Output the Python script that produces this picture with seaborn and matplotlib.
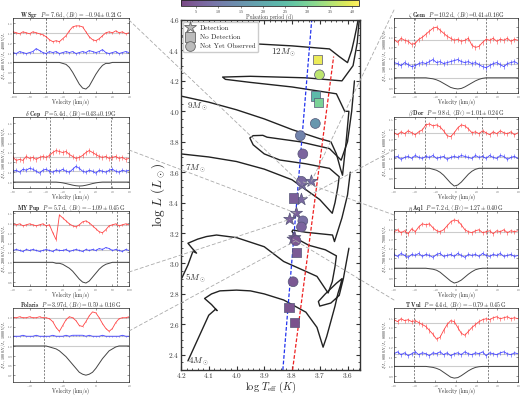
import numpy as np
import pandas as pd
import matplotlib
matplotlib.use("Agg")
import matplotlib.pyplot as plt
from matplotlib.colors import ListedColormap, Normalize
from matplotlib.lines import Line2D
from matplotlib.patches import ConnectionPatch
from matplotlib.ticker import MultipleLocator, FixedLocator
import seaborn as sns

sns.set_style("ticks")
plt.rcParams.update({
    "font.family": "serif",
    "font.serif": ["cmr10", "DejaVu Serif"],
    "mathtext.fontset": "cm",
    "axes.unicode_minus": False,
    "axes.formatter.use_mathtext": True,
})

# ---------------- HR diagram data ----------------
track_masses = ["4", "5", "7", "9", "12"]
track_4_T = [4.175, 4.14, 4.10, 4.075, 4.07, 4.09, 4.115, 4.09, 4.06, 4.00, 3.95, 3.90, 3.83, 3.75, 3.71, 3.688,
             3.675, 3.66, 3.645, 3.635, 3.625, 3.62, 3.64, 3.68, 3.705, 3.70, 3.66, 3.63, 3.615, 3.605, 3.595]
track_4_L = [2.36, 2.50, 2.66, 2.70, 2.69, 2.73, 2.77, 2.80, 2.82, 2.825, 2.82, 2.80, 2.76, 2.68, 2.58, 2.45,
             2.52, 2.62, 2.72, 2.80, 2.86, 2.90, 2.87, 2.80, 2.75, 2.72, 2.74, 2.79, 2.90, 3.00, 3.10]
track_5_T = [4.197, 4.175, 4.157, 4.144, 4.16, 4.175, 4.14, 4.108, 4.072, 4.00, 3.90, 3.83, 3.75, 3.71, 3.67,
             3.655, 3.645, 3.64, 3.68, 3.74, 3.78, 3.80, 3.797, 3.75, 3.654, 3.647, 3.62, 3.60, 3.59]
track_5_L = [2.904, 2.99, 3.08, 3.068, 3.10, 3.133, 3.16, 3.177, 3.187, 3.17, 3.11, 3.013, 2.948, 2.915, 2.806,
             2.88, 2.98, 3.05, 3.09, 3.12, 3.16, 3.21, 3.22, 3.205, 3.187, 3.144, 3.30, 3.45, 3.60]
track_7_T = [4.20, 4.10, 4.00, 3.90, 3.80, 3.70, 3.655, 3.645, 3.635, 3.63, 3.665, 3.75, 3.844, 3.90, 3.94,
             3.952, 3.94, 3.905, 3.89, 3.772, 3.665, 3.623, 3.60, 3.585, 3.575]
track_7_L = [3.72, 3.70, 3.67, 3.62, 3.55, 3.42, 3.33, 3.40, 3.50, 3.57, 3.625, 3.655, 3.68, 3.72, 3.78,
             3.825, 3.84, 3.842, 3.83, 3.80, 3.755, 3.679, 3.80, 4.00, 4.20]
track_9_T = [4.20, 4.10, 4.00, 3.90, 3.80, 3.70, 3.66, 3.64, 3.625, 3.618, 3.605, 3.595, 3.61, 3.64, 3.80,
             3.95, 4.04, 4.05, 3.95, 3.75, 3.62, 3.58, 3.565, 3.558]
track_9_L = [4.10, 4.06, 4.01, 3.95, 3.88, 3.82, 3.80, 3.72, 3.62, 3.58, 3.80, 4.00, 4.00, 4.115, 4.16,
             4.19, 4.21, 4.225, 4.23, 4.22, 4.20, 4.30, 4.45, 4.60]
track_12_T = [4.20, 4.10, 4.00, 3.90, 3.80, 3.70, 3.665, 3.63, 3.60, 3.585, 3.575, 3.567, 3.56]
track_12_L = [4.49, 4.465, 4.45, 4.44, 4.43, 4.415, 4.41, 4.36, 4.32, 4.40, 4.48, 4.55, 4.62]

mass_label_T = [4.175, 4.185, 4.185, 4.18, 3.875]
mass_label_L = [2.35, 2.90, 3.62, 4.03, 4.38]

blue_edge_T = [3.833, 3.729]
blue_edge_L = [2.30, 4.60]
red_edge_T = [3.798, 3.650]
red_edge_L = [2.30, 4.36]

star_T = [3.707, 3.701, 3.716, 3.704, 3.716, 3.770, 3.761, 3.766, 3.730, 3.763, 3.794, 3.766, 3.784,
          3.808, 3.761, 3.766, 3.790, 3.796, 3.786, 3.784, 3.796, 3.811, 3.790]
star_L = [4.34, 4.24, 4.10, 4.06, 3.92, 3.84, 3.72, 3.54, 3.54, 3.515, 3.43, 3.42, 3.33,
          3.29, 3.28, 3.24, 3.17, 3.16, 3.15, 3.07, 2.88, 2.71, 2.61]
star_P = [40.0, 36.0, 24.0, 30.0, 16.0, 12.0, 6.0, 7.0, 8.0, 7.6, 5.0, 7.0, 5.4,
          5.7, 8.0, 6.0, 4.0, 4.4, 3.97, 4.5, 4.0, 3.5, 3.0]
star_status = ["No Detection", "Not Yet Observed", "No Detection", "No Detection", "Not Yet Observed",
               "Not Yet Observed", "Not Yet Observed", "Not Yet Observed", "Detection", "Detection",
               "No Detection", "Detection", "Detection", "Detection", "Not Yet Observed",
               "Not Yet Observed", "Detection", "Detection", "Not Yet Observed", "No Detection",
               "Not Yet Observed", "No Detection", "No Detection"]

# ---------------- Side panels (Stokes profiles) ----------------
panel_names = [r"W\ Sgr", r"\delta\ Cep", r"MY\ Pup", r"Polaris", r"\zeta\ Gem", r"\beta\ Dor", r"\eta\ Aql", r"T\ Vul"]
panel_titles = [r"$P=7.6\,$d, $\langle B_\ell\rangle=-0.94\pm0.21\,$G",
                r"$P=5.4\,$d, $\langle B_\ell\rangle$=0.43$\pm$0.19G",
                r"$P=5.7\,$d, $\langle B_\ell\rangle=-1.09\pm0.45\,$G",
                r"$P=$3.97d, $\langle B_\ell\rangle=0.59\pm0.16\,$G",
                r"$P=10.2\,$d, $\langle B_\ell\rangle$=0.41$\pm$0.16G",
                r"$P=9.8\,$d, $\langle B_\ell\rangle=1.01\pm0.24\,$G",
                r"$P=7.2\,$d, $\langle B_\ell\rangle=1.27\pm0.40\,$G",
                r"$P=4.4\,$d, $\langle B_\ell\rangle=-0.79\pm0.45\,$G"]
panel_scale = [4000, 18000, 2000, 1000, 18000, 6000, 7000, 8000]
panel_vmin = [-100, -80, -40, -50, -60, -60, -60, -60]
panel_vmax = [40, 60, 100, 20, 60, 60, 60, 60]
panel_dash_lo = [-60, -35, 0, -31, -41, -30, -48, -41]
panel_dash_hi = [47, 38, 86, 20, 29, 25, 30, 31]
panel_ylo = [0.69, 0.94, 0.76, 0.63, 0.85, 0.80, 0.82, 0.84]
panel_yhi = [1.45, 1.66, 1.52, 1.39, 1.59, 1.52, 1.58, 1.60]
panel_yticks = [[0.8, 0.9, 1.0, 1.1, 1.2, 1.3, 1.4], [1.0, 1.1, 1.2, 1.3, 1.4, 1.5, 1.6],
                [0.8, 0.9, 1.0, 1.1, 1.2, 1.3, 1.4, 1.5], [0.7, 0.8, 0.9, 1.0, 1.1, 1.2, 1.3],
                [0.9, 1.0, 1.1, 1.2, 1.3, 1.4, 1.5], [0.9, 1.0, 1.1, 1.2, 1.3, 1.4, 1.5],
                [0.9, 1.0, 1.1, 1.2, 1.3, 1.4, 1.5], [0.9, 1.0, 1.1, 1.2, 1.3, 1.4, 1.5]]
panel_vbase = [1.30, 1.25, 1.38, 1.29, 1.37, 1.36, 1.37, 1.45]
panel_nbase = [1.10, 1.11, 1.12, 1.10, 1.14, 1.11, 1.13, 1.13]
panel_verr = [0.012, 0.025, 0.012, 0.004, 0.025, 0.022, 0.022, 0.022]
panel_nerr = [0.010, 0.020, 0.010, 0.003, 0.022, 0.020, 0.020, 0.020]

# deviations in units of 0.01 (36 velocity bins per panel)
V_dev = [
    [1, 0, -1, 1, 0, -1, 1, 0, -1, -2, -4, -7, -9, -8, -9, -6, -3, 2, 6, 7, 7, 6, 1, -4, -7, -8, -6, -3, 0, 1, 0, 2, 0, 1, -1, 0],
    [0, -3, -2, -3, 1, -1, 0, -2, 0, 1, 0, 2, 5, 7, 6, 5, 6, 3, 1, -1, 0, 2, 5, 7, 5, 3, 1, 0, 1, -1, 0, 1, -1, 0, -2, -1],
    [1, 0, 1, -1, 0, 1, 0, -1, 0, 1, -1, 0, -8, -15, 10, 7, 4, 1, -1, -2, 0, 3, 4, 2, -1, -4, -7, -8, -5, -1, 0, 1, -1, 0, 1, 0],
    [0, 0, 1, 0, 0, 1, 0, 0, 1, 0, 0, -1, -4, -10, -14, -8, -2, 1, 0, -3, -8, -9, -4, 2, 6, 5, 0, -6, -11, -14, -11, -5, -1, 0, 0, 1],
    [1, -2, 2, 0, -1, -4, -3, 1, 3, 6, 9, 12, 13, 10, 7, 4, 2, 0, 1, -1, 0, 2, -5, -7, -6, -2, 1, 0, 2, -1, 1, 0, 2, -1, 1, 0],
    [0, -2, 1, -1, 2, 0, -2, 1, 3, 8, 9, 7, 8, 6, 2, -3, -4, 0, 5, 8, 7, 4, 0, 1, -1, 2, 0, -2, 1, -1, 2, 0, -1, 1, -2, 0],
    [0, 2, -1, 1, -2, 3, 0, 5, 8, 7, 8, 4, 1, 0, 2, 6, 10, 12, 11, 7, 2, 0, -1, 1, 2, -1, 0, 1, -2, 1, 0, 2, -1, 1, 0, 1],
    [3, 1, 4, 2, 3, 1, 2, 0, -2, -4, -8, -12, -17, -15, -8, -2, 2, 1, -5, -11, -13, -9, -5, -2, 1, 3, 4, 3, 5, 6, 4, 5, 6, 4, 5, 4],
]
N_dev = [
    [0, -1, 1, 0, -1, 0, 1, 4, 2, 0, -1, 1, 0, 1, -1, 0, 1, 0, 1, -1, 0, 1, 0, 2, 1, 0, 1, 3, 0, -1, 0, 1, -1, 0, 1, 0],
    [0, 1, -1, 2, 1, 3, 2, 0, -2, 1, 2, 0, -1, 1, 0, 2, 0, -1, 2, 5, 3, 0, -1, 1, 0, -2, 1, 0, -1, 1, 2, 0, -1, 1, 0, 1],
    [0, 1, 0, -1, 1, 0, 1, 0, -1, 0, 1, 0, -1, 1, 0, 0, 1, -1, 0, 1, 0, -1, 1, 0, 1, 0, 2, 1, 3, 2, 0, 1, 0, -1, 1, 0],
    [0, 0, 0, 1, 0, 0, 0, 1, 0, 0, 0, 0, 1, 0, 0, 0, 1, 0, 1, 1, 1, 1, 0, 1, 0, 0, 0, 1, 0, 0, 0, 0, 0, 1, 0, 0],
    [1, 0, -2, 1, -1, -3, -2, 0, 1, 0, 2, 4, 1, 2, 0, 1, 2, 3, 4, 2, 1, 2, 0, 1, -1, -3, -4, -2, 0, 1, -1, -3, 0, 1, 2, 0],
    [0, 1, -2, 0, 1, -1, 2, 0, -1, 1, 0, 2, -1, 0, 1, -2, 0, 1, 0, 2, 1, 0, -1, 2, 0, 1, -1, 2, 0, -1, 2, 1, -2, 0, 1, -1],
    [1, -1, 2, 0, -2, 1, 0, 2, -1, 1, 0, -2, 1, 2, -1, 0, 1, -1, 2, 0, -2, 1, 0, 1, -1, 2, 0, -1, 1, 0, 2, -1, 0, 1, -1, 0],
    [0, 2, -1, 1, -2, 0, 2, -1, 1, 0, -2, 1, 0, 2, -1, 1, -2, 0, 1, -1, 2, 0, -1, 1, 0, 2, -2, 1, 0, -1, 1, 2, 0, -1, 1, 0],
]
I_dev = [
    [0, 0, 0, 0, 0, 0, 0, 0, 0, 0, 0, 0, 0, 0, 0, -1, -2, -5, -10, -16, -22, -26, -27, -24, -18, -12, -7, -3, -1, -1, 0, 0, 0, 0, 0, 0],
    [0, 0, 0, 0, 0, 0, 0, 0, 0, 0, 0, 0, 0, 0, -0.3, -0.8, -1.5, -2.3, -3.1, -3.7, -4, -3.8, -3.2, -2.4, -1.5, -0.8, -0.3, 0, 0, 0, 0, 0, 0, 0, 0, 0],
    [0, 0, 0, 0, 0, 0, 0, 0, 0, 0, 0, 0, 0, -1, -1, -2, -4, -6, -9, -13, -17, -20, -21, -19, -15, -11, -7, -4, -2, -1, 0, 0, 0, 0, 0, 0],
    [0, 0, 0, 0, 0, 0, 0, 0, 0, 0, 0, -1, -2, -3, -5, -8, -11, -15, -19, -23, -27, -29, -30, -29, -27, -23, -18, -13, -9, -5, -3, -1, 0, 0, 0, 0],
    [0, 0, 0, 0, 0, 0, 0, 0, 0, 0, -0.5, -1, -2, -3.5, -5.5, -7.5, -9.5, -10.5, -11, -10.5, -9, -7, -5, -3, -1.5, -0.5, 0, 0, 0, 0, 0, 0, 0, 0, 0, 0],
    [0, 0, 0, 0, 0, 0, 0, 0, 0, 0, 0, -1, -2, -4, -7, -11, -15, -18, -17, -14, -10, -6, -3, -1, 0, 0, 0, 0, 0, 0, 0, 0, 0, 0, 0, 0],
    [0, 0, 0, 0, 0, 0, 0, 0, 0, 0, -0.5, -1, -2, -4, -7, -10, -13, -15, -14, -12, -9, -6, -3.5, -1.5, -0.5, 0, 0, 0, 0, 0, 0, 0, 0, 0, 0, 0],
    [0, 0, 0, 0, 0, 0, 0, 0, 0, 0, -0.5, -1, -2, -3.5, -6, -8.5, -11, -12, -11.5, -9.5, -7, -4.5, -2.5, -1, -0.3, 0, 0, 0, 0, 0, 0, 0, 0, 0, 0, 0],
]

# ---------------- figure ----------------
W, H = 521, 395
fig = plt.figure(figsize=(W / 100, H / 100), dpi=100)

def fpx(x0, y0, x1, y1):
    return [x0 / W, 1 - y1 / H, (x1 - x0) / W, (y1 - y0) / H]

ax = fig.add_axes(fpx(181, 20, 360, 370))

# tracks
rows = []
for m, T, L in [("4", track_4_T, track_4_L), ("5", track_5_T, track_5_L), ("7", track_7_T, track_7_L),
                ("9", track_9_T, track_9_L), ("12", track_12_T, track_12_L)]:
    for i, (t, l) in enumerate(zip(T, L)):
        rows.append({"mass": m, "order": i, "logT": t, "logL": l})
tracks = pd.DataFrame(rows)
sns.lineplot(data=tracks, x="logT", y="logL", units="mass", estimator=None, sort=False,
             color="#222222", lw=1.0, ax=ax, legend=False)

for m, t, l in zip(track_masses, mass_label_T, mass_label_L):
    ax.text(t, l, rf"${m}M_\odot$", fontsize=6.5, color="#333333", ha="left", va="center")

ax.plot(blue_edge_T, blue_edge_L, ls=(0, (3, 1.5)), color="#2233ee", lw=0.9)
ax.plot(red_edge_T, red_edge_L, ls=(0, (3, 1.5)), color="#ee2222", lw=0.9)

# colormap (soft viridis)
base = plt.get_cmap("viridis")(np.linspace(0, 1, 256))
soft = base.copy()
soft[:, :3] = base[:, :3] * 0.72 + 0.28
cmap = ListedColormap(soft)
norm = Normalize(vmin=1.6, vmax=41.6)

stars = pd.DataFrame({"logT": star_T, "logL": star_L, "P": star_P, "status": star_status})
for status, mk, sz in [("Detection", "*", 85), ("No Detection", "s", 45), ("Not Yet Observed", "o", 50)]:
    sub = stars[stars.status == status]
    sns.scatterplot(data=sub, x="logT", y="logL", hue="P", palette=cmap, hue_norm=norm, marker=mk, s=sz,
                    edgecolor="#555577", linewidth=0.5, ax=ax, legend=False, zorder=5)

ax.set_xlim(4.2, 3.555)
ax.set_ylim(2.3, 4.6)
ax.xaxis.set_major_locator(MultipleLocator(0.1))
ax.xaxis.set_minor_locator(MultipleLocator(0.02))
ax.yaxis.set_major_locator(MultipleLocator(0.2))
ax.yaxis.set_minor_locator(MultipleLocator(0.05))
ax.tick_params(which="both", direction="in", top=True, right=True, labelsize=5.3, colors="#333333", pad=1.0)
ax.tick_params(which="major", length=3)
ax.tick_params(which="minor", length=1.5)
ax.set_xlabel(r"$\log\,T_{\rm eff}\ (K)$", fontsize=7.5)
ax.xaxis.set_label_coords(0.5, -0.029)
ax.set_ylabel(r"$\log\,L\ (L_\odot)$", fontsize=9.5, labelpad=1)
for s in ax.spines.values():
    s.set_linewidth(1.0)
    s.set_color("#333333")

handles = [Line2D([], [], marker="*", ls="", ms=9, mfc="#bbbbbb", mec="#666666", mew=0.6),
           Line2D([], [], marker="s", ls="", ms=6.5, mfc="#bbbbbb", mec="#666666", mew=0.6),
           Line2D([], [], marker="o", ls="", ms=7, mfc="#bbbbbb", mec="#666666", mew=0.6)]
ax.legend(handles, ["Detection", "No Detection", "Not Yet Observed"], loc="upper left", fontsize=5,
          frameon=True, borderpad=0.4, handletextpad=0.8, labelspacing=0.5, framealpha=1, edgecolor="#cccccc",
          borderaxespad=0.3, handlelength=1.2)

# colorbar
cax = fig.add_axes(fpx(181, 0, 359, 5.5))
sm = plt.cm.ScalarMappable(norm=norm, cmap=cmap)
cb = fig.colorbar(sm, cax=cax, orientation="horizontal")
cb.set_ticks([5, 10, 15, 20, 25, 30, 35, 40])
cb.ax.tick_params(labelsize=3.0, length=1.5, pad=0.2, colors="#333333", width=0.4)
cb.outline.set_linewidth(0.6)
fig.text(270 / W, 1 - 17.3 / H, "Pulsation period (d)", fontsize=3.9, ha="center", va="center", color="#333333")

# ---------------- side panels ----------------
row_px = [(18, 93), (117, 188), (211, 286), (308, 382)]
col_px = [(13, 129), (394, 518)]
panel_axes = []
for k in range(8):
    c = 0 if k < 4 else 1
    r = k % 4
    x0, x1 = col_px[c]
    y0, y1 = row_px[r]
    pa = fig.add_axes(fpx(x0, y0, x1, y1))
    panel_axes.append(pa)
    vel = np.linspace(panel_vmin[k], panel_vmax[k], 36)
    for yv in (1.0, panel_nbase[k], panel_vbase[k]):
        pa.axhline(yv, color="#cccccc", lw=0.8, zorder=0)
    pa.axvline(panel_dash_lo[k], color="#555555", lw=0.5, ls=(0, (3, 2)))
    pa.axvline(panel_dash_hi[k], color="#555555", lw=0.5, ls=(0, (3, 2)))
    vv = panel_vbase[k] + np.array(V_dev[k]) * 0.01
    nn = panel_nbase[k] + np.array(N_dev[k]) * 0.01
    ii = 1.0 + np.array(I_dev[k]) * 0.01
    pa.errorbar(vel, vv, yerr=panel_verr[k], color="#ff4444", lw=0.6, elinewidth=0.4, capsize=0)
    pa.errorbar(vel, nn, yerr=panel_nerr[k], color="#4444ff", lw=0.6, elinewidth=0.4, capsize=0)
    sns.lineplot(x=vel, y=ii, color="#444444", lw=0.7, ax=pa)
    pa.set_xlim(panel_vmin[k], panel_vmax[k])
    pa.set_ylim(panel_ylo[k], panel_yhi[k])
    pa.yaxis.set_major_locator(FixedLocator(panel_yticks[k]))
    pa.xaxis.set_major_locator(MultipleLocator(20))
    pa.tick_params(direction="in", top=True, right=True, labelsize=2.2, length=1.5, pad=0.4, width=0.4,
                   colors="#444444")
    for s in pa.spines.values():
        s.set_linewidth(0.5)
    pa.set_xlabel("Velocity (km/s)", fontsize=3.8)
    pa.xaxis.set_label_coords(0.5, -6.0 / (y1 - y0))
    sc = panel_scale[k]
    pa.set_ylabel(rf"$I/I_c$, ${sc}\,N/I_c$, ${sc}\,V/I_c$", fontsize=3.0)
    pa.yaxis.set_label_coords(-5.2 / (x1 - x0), 0.5)
    pa.set_title(rf"$\mathbf{{{panel_names[k]}}}$  " + panel_titles[k], fontsize=4.2, pad=1.0)

# connectors (panel -> star)
conn_from = [(129, 20), (129, 150), (129, 272), (129, 331), (394, 10), (394, 150), (394, 215), (394, 300)]
conn_to = [(3.763, 3.515), (3.784, 3.33), (3.808, 3.29), (3.786, 3.15), (3.730, 3.54), (3.766, 3.42), (3.766, 3.54), (3.796, 3.16)]
for (px, py), (t, l) in zip(conn_from, conn_to):
    cp = ConnectionPatch(xyA=(px / W, 1 - py / H), coordsA="figure fraction", xyB=(t, l), coordsB=ax.transData,
                         color="#aaaaaa", lw=0.6, ls=(0, (4, 3)), zorder=10)
    fig.add_artist(cp)

fig.savefig("out.png", dpi=100)
